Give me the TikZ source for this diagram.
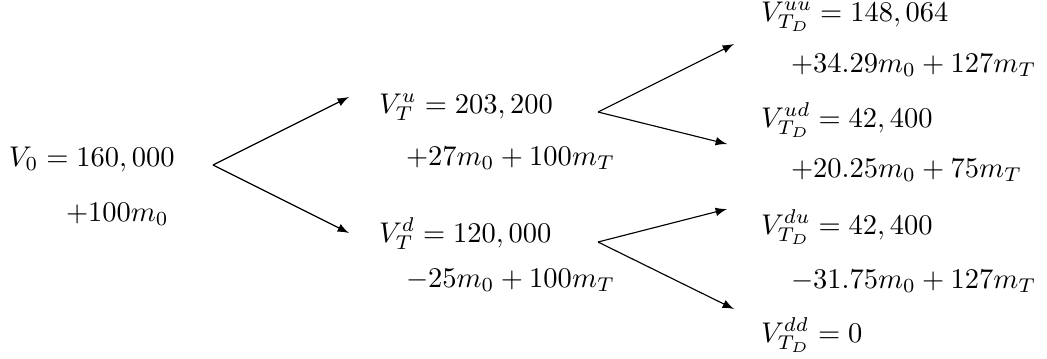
\documentclass[tikz,border=0pt]{standalone}
\usetikzlibrary{arrows.meta}
\begin{document}
\begin{tikzpicture}[x=0.351pt,y=-0.351pt,
  lbl/.style={anchor=base west,inner sep=0pt,outer sep=0pt},
  br/.style={-latex,line width=0.4pt}]
\useasboundingbox (0,0) rectangle (1047,358);
% root
\node[lbl] (r1) at (9,166) {$V_0 = 160,000$};
\node[lbl] (r2) at (66,221) {$+100m_0$};
% middle
\node[lbl] (u1) at (379,113) {$V_T^u = 203,200$};
\node[lbl] (u2) at (406,165) {$+27m_0 + 100m_T$};
\node[lbl] (d1) at (379,242) {$V_T^d = 120,000$};
\node[lbl] (d2) at (406,287) {$-25m_0 + 100m_T$};
% right
\node[lbl] (uu1) at (761,21) {$V_{T_D}^{uu} = 148,064$};
\node[lbl] (uu2) at (791,72) {$+34.29m_0 + 127m_T$};
\node[lbl] (ud1) at (761,127) {$V_{T_D}^{ud} = 42,400$};
\node[lbl] (ud2) at (791,177) {$+20.25m_0 + 75m_T$};
\node[lbl] (du1) at (761,234) {$V_{T_D}^{du} = 42,400$};
\node[lbl] (du2) at (791,288) {$-31.75m_0 + 127m_T$};
\node[lbl] (dd1) at (761,342) {$V_{T_D}^{dd} = 0$};
% fork points and tips
\coordinate (f0) at (213,165);
\coordinate (t0u) at (349,97);
\coordinate (t0d) at (349,233);
\coordinate (f1) at (598,112);
\coordinate (t1u) at (734,44);
\coordinate (t1d) at (727,144);
\coordinate (f2) at (598,242);
\coordinate (t2u) at (727,209);
\coordinate (t2d) at (734,309);
\draw[br] (f0) -- (t0u);
\draw[br] (f0) -- (t0d);
\draw[br] (f1) -- (t1u);
\draw[br] (f1) -- (t1d);
\draw[br] (f2) -- (t2u);
\draw[br] (f2) -- (t2d);
\end{tikzpicture}
\end{document}
